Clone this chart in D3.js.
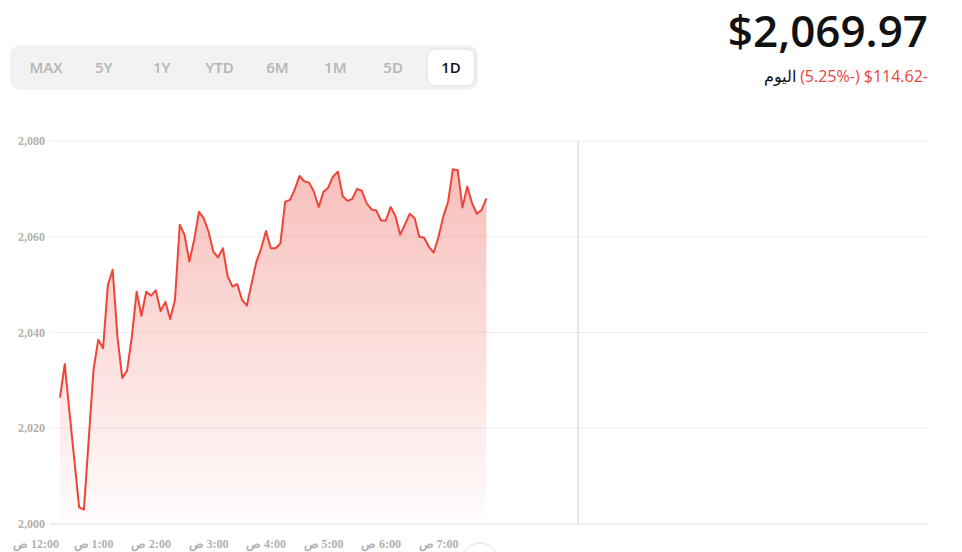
<!DOCTYPE html>
<html><head><meta charset="utf-8">
<script src="https://cdn.jsdelivr.net/npm/d3@7"></script>
<style>body{margin:0;background:#fff;font-family:"Open Sans",sans-serif}</style>
</head><body><svg id="c" width="962" height="552"></svg>
<script>
const tabs = ["MAX","5Y","1Y","YTD","6M","1M","5D","1D"];
const selectedTab = "1D";
const price = "$2,069.97";
const change = "(5.25%-) $114.62-";
const changeLabel = "اليوم";
const yTicks = [2000, 2020, 2040, 2060, 2080];
const hourLabels = ["12:00 ص","1:00 ص","2:00 ص","3:00 ص","4:00 ص","5:00 ص","6:00 ص","7:00 ص"];
const startMinute = 25, stepMinutes = 5;
const values = [2026.4,2033.4,2023.2,2013.4,2003.5,2003.0,2017.6,2032.2,2038.5,2036.7,2049.9,2053.1,2039.1,2030.5,2032.0,2039.1,2048.5,2043.5,2048.5,2047.7,2048.8,2044.5,2046.4,2042.8,2046.8,2062.5,2060.4,2054.8,2059.3,2065.2,2063.9,2061.1,2056.9,2055.7,2057.6,2051.7,2049.6,2050.1,2046.8,2045.6,2050.3,2054.8,2057.6,2061.2,2057.6,2057.6,2058.6,2067.3,2067.7,2069.9,2072.7,2071.6,2071.3,2069.4,2066.2,2069.4,2070.3,2072.6,2073.6,2068.5,2067.5,2067.9,2070.0,2069.6,2067.0,2065.7,2065.5,2063.4,2063.4,2066.2,2064.4,2060.4,2062.6,2064.8,2063.9,2060.0,2059.8,2057.9,2056.7,2060.0,2064.2,2067.3,2074.1,2073.9,2066.1,2070.5,2067.0,2064.8,2065.6,2068.0];

const svg = d3.select("#c");
svg.append("rect").attr("x",10).attr("y",45).attr("width",468).attr("height",45).attr("rx",10).attr("fill","#f2f2f2");
const tabX = d3.scalePoint().domain(tabs).range([46,451]);
tabs.forEach(t=>{
  if(t===selectedTab){
    svg.append("rect").attr("x",tabX(t)-24).attr("y",49).attr("width",48).attr("height",37).attr("rx",8).attr("fill","#fff").attr("stroke","#ddd");
  }
  svg.append("text").attr("x",tabX(t)).attr("y",73).attr("text-anchor","middle").attr("font-size",15).attr("font-weight",600)
    .attr("fill",t===selectedTab?"#111":"#b5b5b5").text(t);
});
svg.append("text").attr("x",928).attr("y",47).attr("text-anchor","end").attr("font-size",44).attr("font-weight",600).attr("fill","#111").text(price);
const ch = svg.append("text").attr("x",928).attr("y",82).attr("text-anchor","end").attr("font-size",16).attr("fill","#e8453c").attr("direction","ltr").text(change);
const w = ch.node().getComputedTextLength();
svg.append("text").attr("x",928-w-4).attr("y",82).attr("text-anchor","end").attr("font-size",16).attr("fill","#111").text(changeLabel);

const x = d3.scaleLinear().domain([0,60]).range([36,93.5]);
const y = d3.scaleLinear().domain([2000,2080]).range([524,141]);
const data = values.map((v,i)=>({t:startMinute+i*stepMinutes,v}));

yTicks.forEach(t=>{
  svg.append("line").attr("x1",50).attr("x2",928).attr("y1",y(t)).attr("y2",y(t)).attr("stroke",t===2000?"#ddd":"#eee");
  svg.append("text").attr("x",45).attr("y",y(t)+4).attr("text-anchor","end").attr("font-family","Liberation Serif, serif")
    .attr("font-weight","bold").attr("font-size",12).attr("fill","#b0b0b0").text(d3.format(",")(t));
});
svg.append("line").attr("x1",578).attr("x2",578).attr("y1",141).attr("y2",524).attr("stroke","#d0d0d0");

const grad = svg.append("defs").append("linearGradient").attr("id","g").attr("x1",0).attr("x2",0).attr("y1",0).attr("y2",1);
grad.append("stop").attr("offset","0").attr("stop-color","#f08078").attr("stop-opacity",0.5);
grad.append("stop").attr("offset","1").attr("stop-color","#f08078").attr("stop-opacity",0.02);
svg.append("path").datum(data).attr("fill","url(#g)")
  .attr("d",d3.area().x(d=>x(d.t)).y0(y(2000)).y1(d=>y(d.v)));
svg.append("path").datum(data).attr("fill","none").attr("stroke","#ef4438").attr("stroke-width",2).attr("stroke-linejoin","round")
  .attr("d",d3.line().x(d=>x(d.t)).y(d=>y(d.v)));

hourLabels.forEach((l,i)=>{
  svg.append("text").attr("x",x(i*60)).attr("y",548).attr("text-anchor","middle").attr("direction","rtl")
    .attr("font-family","Liberation Serif, serif")
    .attr("font-weight","bold").attr("font-size",12).attr("fill","#b0b0b0").text(l);
});
svg.append("circle").attr("cx",480).attr("cy",560).attr("r",17).attr("fill","#fff").attr("stroke","#ddd");
</script></body></html>
